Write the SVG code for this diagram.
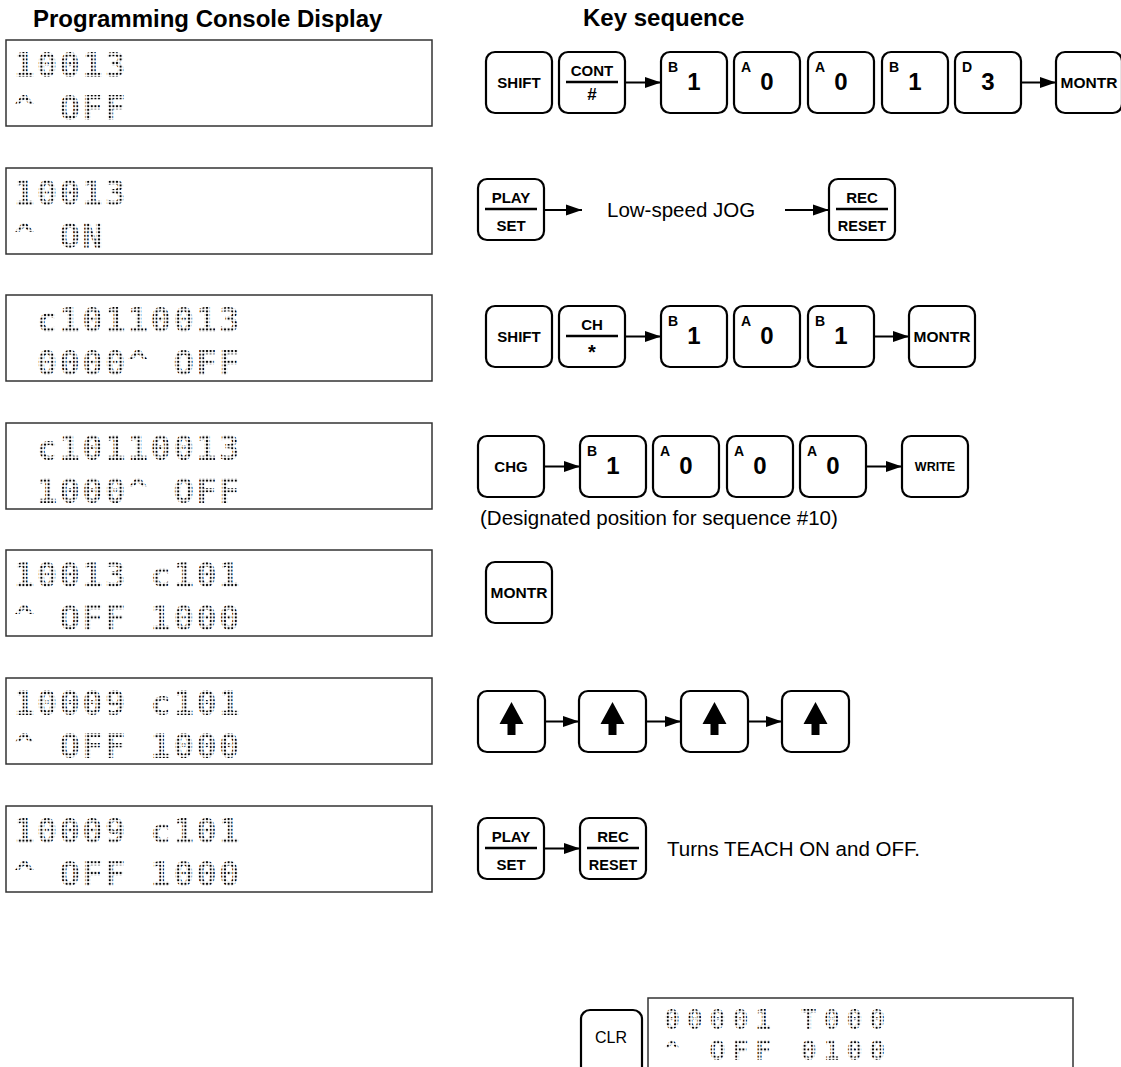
<svg xmlns="http://www.w3.org/2000/svg" width="1121" height="1067" viewBox="0 0 1121 1067">
<defs>
<pattern id="dots" patternUnits="userSpaceOnUse" width="3.6" height="3.6"><circle cx="1.8" cy="1.8" r="1.15" fill="#000"/></pattern>
<marker id="ah" markerUnits="userSpaceOnUse" markerWidth="16" markerHeight="12" refX="16" refY="6" orient="auto"><path d="M0,0.5 L16,6 L0,11.5 Z" fill="#000"/></marker>
</defs>
<style>
.hd{font-family:"Liberation Sans",Arial,sans-serif;font-weight:bold;font-size:24px;fill:#000}
.box{fill:#fff;stroke:#333;stroke-width:1.5}
.lcd{font-family:"DejaVu Sans Mono",monospace;font-weight:bold;font-size:34px;letter-spacing:2.3px;fill:url(#dots);white-space:pre}
.lcd2{font-family:"DejaVu Sans Mono",monospace;font-weight:bold;font-size:26.5px;letter-spacing:6.85px;fill:url(#dots);white-space:pre}
.key{fill:#fff;stroke:#000;stroke-width:2.2}
.kl{font-family:"Liberation Sans",Arial,sans-serif;font-weight:bold;font-size:15px;text-anchor:middle;fill:#000}
.ks{font-family:"Liberation Sans",Arial,sans-serif;font-weight:bold;font-size:14px;fill:#000}
.kd{font-family:"Liberation Sans",Arial,sans-serif;font-weight:bold;font-size:24px;text-anchor:middle;fill:#000}
.dv{stroke:#000;stroke-width:2.5}
.tx{font-family:"Liberation Sans",Arial,sans-serif;font-size:20.5px;fill:#000}
.conn line{stroke:#000;stroke-width:2;marker-end:url(#ah)}
</style>
<rect width="1121" height="1067" fill="#fff"/>
<text class="hd" x="33" y="27">Programming Console Display</text>
<text class="hd" x="583" y="26">Key sequence</text>

<g id="display1"><rect class="box" x="6" y="40" width="426" height="86"/><text class="lcd" x="14" y="77" xml:space="preserve">10013</text><text class="lcd" x="14" y="120" xml:space="preserve">^ OFF</text></g>
<g id="display2"><rect class="box" x="6" y="168" width="426" height="86"/><text class="lcd" x="14" y="205" xml:space="preserve">10013</text><text class="lcd" x="14" y="248" xml:space="preserve">^ ON</text></g>
<g id="display3"><rect class="box" x="6" y="295" width="426" height="86"/><text class="lcd" x="14" y="332" xml:space="preserve"> c10110013</text><text class="lcd" x="14" y="375" xml:space="preserve"> 0000^ OFF</text></g>
<g id="display4"><rect class="box" x="6" y="423" width="426" height="86"/><text class="lcd" x="14" y="460" xml:space="preserve"> c10110013</text><text class="lcd" x="14" y="503" xml:space="preserve"> 1000^ OFF</text></g>
<g id="display5"><rect class="box" x="6" y="550" width="426" height="86"/><text class="lcd" x="14" y="587" xml:space="preserve">10013 c101</text><text class="lcd" x="14" y="630" xml:space="preserve">^ OFF 1000</text></g>
<g id="display6"><rect class="box" x="6" y="678" width="426" height="86"/><text class="lcd" x="14" y="715" xml:space="preserve">10009 c101</text><text class="lcd" x="14" y="758" xml:space="preserve">^ OFF 1000</text></g>
<g id="display7"><rect class="box" x="6" y="806" width="426" height="86"/><text class="lcd" x="14" y="843" xml:space="preserve">10009 c101</text><text class="lcd" x="14" y="886" xml:space="preserve">^ OFF 1000</text></g>

<!-- Row 1 -->
<g id="r1-shift"><rect class="key" x="486" y="52" width="66" height="61" rx="9"/><text class="kl" x="519" y="88">SHIFT</text></g>
<g id="r1-cont"><rect class="key" x="559" y="52" width="66" height="61" rx="9"/><text class="kl" x="592" y="76">CONT</text><line class="dv" x1="566" y1="82" x2="618" y2="82"/><text class="kl" x="592" y="100" style="font-size:17px">#</text></g>
<g id="r1-b1"><rect class="key" x="661" y="52" width="66" height="61" rx="9"/><text class="ks" x="668" y="72">B</text><text class="kd" x="694" y="90">1</text></g>
<g id="r1-a0a"><rect class="key" x="734" y="52" width="66" height="61" rx="9"/><text class="ks" x="741" y="72">A</text><text class="kd" x="767" y="90">0</text></g>
<g id="r1-a0b"><rect class="key" x="808" y="52" width="66" height="61" rx="9"/><text class="ks" x="815" y="72">A</text><text class="kd" x="841" y="90">0</text></g>
<g id="r1-b1b"><rect class="key" x="882" y="52" width="66" height="61" rx="9"/><text class="ks" x="889" y="72">B</text><text class="kd" x="915" y="90">1</text></g>
<g id="r1-d3"><rect class="key" x="955" y="52" width="66" height="61" rx="9"/><text class="ks" x="962" y="72">D</text><text class="kd" x="988" y="90">3</text></g>
<g id="r1-montr"><rect class="key" x="1056" y="52" width="66" height="61" rx="9"/><text class="kl" x="1089" y="88" style="font-size:15.5px">MONTR</text></g>

<!-- Row 2 -->
<g id="r2-playset"><rect class="key" x="478" y="179" width="66" height="61" rx="9"/><text class="kl" x="511" y="203">PLAY</text><line class="dv" x1="485" y1="209" x2="537" y2="209"/><text class="kl" x="511" y="231">SET</text></g>
<text class="tx" x="607" y="217">Low-speed JOG</text>
<g id="r2-recreset"><rect class="key" x="829" y="179" width="66" height="61" rx="9"/><text class="kl" x="862" y="203">REC</text><line class="dv" x1="836" y1="209" x2="888" y2="209"/><text class="kl" x="862" y="231" style="font-size:14.5px">RESET</text></g>

<!-- Row 3 -->
<g id="r3-shift"><rect class="key" x="486" y="306" width="66" height="61" rx="9"/><text class="kl" x="519" y="342">SHIFT</text></g>
<g id="r3-ch"><rect class="key" x="559" y="306" width="66" height="61" rx="9"/><text class="kl" x="592" y="330">CH</text><line class="dv" x1="566" y1="336" x2="618" y2="336"/><text class="kl" x="592" y="359" style="font-size:20px">*</text></g>
<g id="r3-b1"><rect class="key" x="661" y="306" width="66" height="61" rx="9"/><text class="ks" x="668" y="326">B</text><text class="kd" x="694" y="344">1</text></g>
<g id="r3-a0"><rect class="key" x="734" y="306" width="66" height="61" rx="9"/><text class="ks" x="741" y="326">A</text><text class="kd" x="767" y="344">0</text></g>
<g id="r3-b1b"><rect class="key" x="808" y="306" width="66" height="61" rx="9"/><text class="ks" x="815" y="326">B</text><text class="kd" x="841" y="344">1</text></g>
<g id="r3-montr"><rect class="key" x="909" y="306" width="66" height="61" rx="9"/><text class="kl" x="942" y="342" style="font-size:15.5px">MONTR</text></g>

<!-- Row 4 -->
<g id="r4-chg"><rect class="key" x="478" y="436" width="66" height="61" rx="9"/><text class="kl" x="511" y="472">CHG</text></g>
<g id="r4-b1"><rect class="key" x="580" y="436" width="66" height="61" rx="9"/><text class="ks" x="587" y="456">B</text><text class="kd" x="613" y="474">1</text></g>
<g id="r4-a0a"><rect class="key" x="653" y="436" width="66" height="61" rx="9"/><text class="ks" x="660" y="456">A</text><text class="kd" x="686" y="474">0</text></g>
<g id="r4-a0b"><rect class="key" x="727" y="436" width="66" height="61" rx="9"/><text class="ks" x="734" y="456">A</text><text class="kd" x="760" y="474">0</text></g>
<g id="r4-a0c"><rect class="key" x="800" y="436" width="66" height="61" rx="9"/><text class="ks" x="807" y="456">A</text><text class="kd" x="833" y="474">0</text></g>
<g id="r4-write"><rect class="key" x="902" y="436" width="66" height="61" rx="9"/><text class="kl" x="935" y="471" style="font-size:12.5px">WRITE</text></g>
<text class="tx" x="480" y="525">(Designated position for sequence #10)</text>

<!-- Row 5 -->
<g id="r5-montr"><rect class="key" x="486" y="562" width="66" height="61" rx="9"/><text class="kl" x="519" y="598" style="font-size:15.5px">MONTR</text></g>

<!-- Row 6 -->
<g id="r6-up1"><rect class="key" x="478" y="691" width="67" height="61" rx="9"/><path d="M511.5,702 L523.5,724 L515.5,724 L515.5,735 L507.5,735 L507.5,724 L499.5,724 Z"/></g>
<g id="r6-up2"><rect class="key" x="579" y="691" width="67" height="61" rx="9"/><path d="M612.5,702 L624.5,724 L616.5,724 L616.5,735 L608.5,735 L608.5,724 L600.5,724 Z"/></g>
<g id="r6-up3"><rect class="key" x="681" y="691" width="67" height="61" rx="9"/><path d="M714.5,702 L726.5,724 L718.5,724 L718.5,735 L710.5,735 L710.5,724 L702.5,724 Z"/></g>
<g id="r6-up4"><rect class="key" x="782" y="691" width="67" height="61" rx="9"/><path d="M815.5,702 L827.5,724 L819.5,724 L819.5,735 L811.5,735 L811.5,724 L803.5,724 Z"/></g>

<!-- Row 7 -->
<g id="r7-playset"><rect class="key" x="478" y="818" width="66" height="61" rx="9"/><text class="kl" x="511" y="842">PLAY</text><line class="dv" x1="485" y1="848" x2="537" y2="848"/><text class="kl" x="511" y="870">SET</text></g>
<g id="r7-recreset"><rect class="key" x="580" y="818" width="66" height="61" rx="9"/><text class="kl" x="613" y="842">REC</text><line class="dv" x1="587" y1="848" x2="639" y2="848"/><text class="kl" x="613" y="870" style="font-size:14.5px">RESET</text></g>
<text class="tx" x="667" y="856">Turns TEACH ON and OFF.</text>

<!-- Bottom -->
<g id="clr"><rect class="key" x="581" y="1010" width="61" height="75" rx="9"/><text class="kl" x="611" y="1043" style="font-weight:normal;font-size:16px">CLR</text></g>
<g id="display8"><rect class="box" x="648" y="998" width="425" height="90"/><text class="lcd2" x="664" y="1029" xml:space="preserve">00001 T000</text><text class="lcd2" x="664" y="1060" xml:space="preserve">^ OFF 0100</text></g>

<g id="connectors" class="conn">
<line x1="626" y1="82.5" x2="661" y2="82.5"/>
<line x1="1022" y1="82.5" x2="1056" y2="82.5"/>
<line x1="544" y1="210" x2="582" y2="210"/>
<line x1="785" y1="210" x2="829" y2="210"/>
<line x1="626" y1="336.5" x2="661" y2="336.5"/>
<line x1="874" y1="336.5" x2="909" y2="336.5"/>
<line x1="545" y1="466.5" x2="580" y2="466.5"/>
<line x1="866" y1="466.5" x2="902" y2="466.5"/>
<line x1="545" y1="721.5" x2="579" y2="721.5"/>
<line x1="646" y1="721.5" x2="681" y2="721.5"/>
<line x1="748" y1="721.5" x2="782" y2="721.5"/>
<line x1="544" y1="848.5" x2="580" y2="848.5"/>
</g>
</svg>
